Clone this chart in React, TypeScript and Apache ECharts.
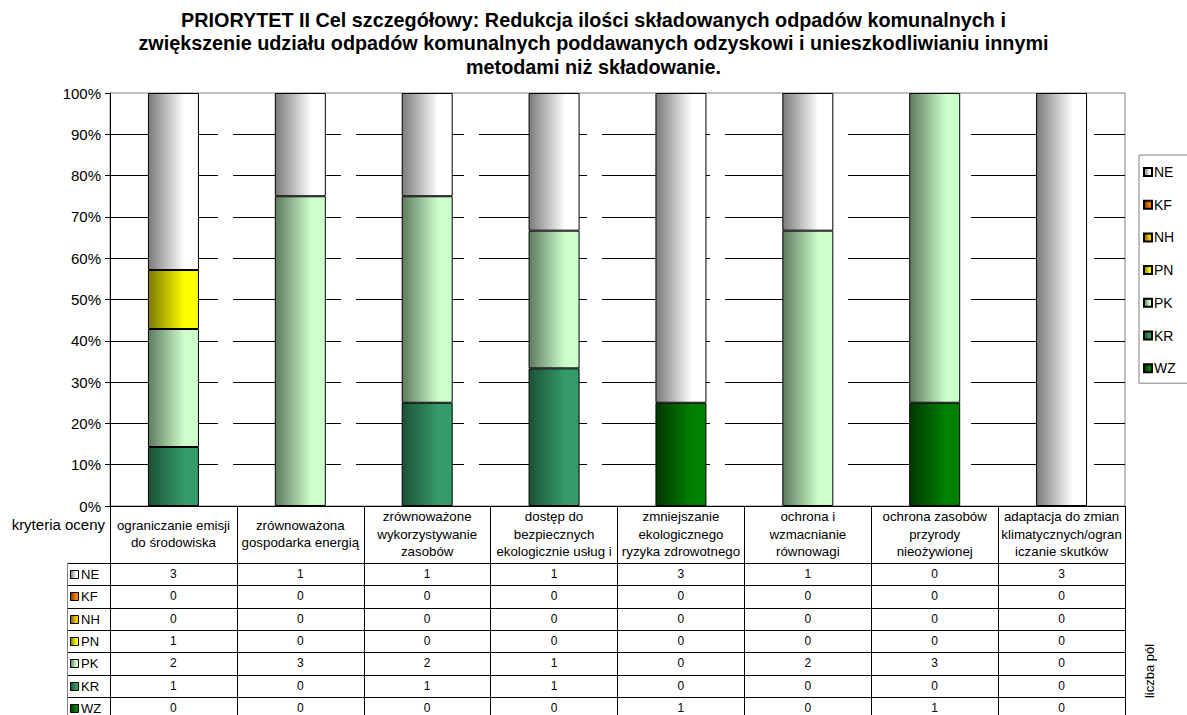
import React, { useEffect, useRef } from "react";
import * as echarts from "echarts";

// Criteria (column headers, pre-wrapped as in the printed table)
const categories = [
  "ograniczanie emisji\ndo środowiska",
  "zrównoważona\ngospodarka energią",
  "zrównoważone\nwykorzystywanie\nzasobów",
  "dostęp do\nbezpiecznych\nekologicznie usług i",
  "zmniejszanie\nekologicznego\nryzyka zdrowotnego",
  "ochrona i\nwzmacnianie\nrównowagi",
  "ochrona zasobów\nprzyrody\nnieożywionej",
  "adaptacja do zmian\nklimatycznych/ogran\niczanie skutków",
];

// Counts per assessment code (liczba pól)
const NE = [3, 1, 1, 1, 3, 1, 0, 3];
const KF = [0, 0, 0, 0, 0, 0, 0, 0];
const NH = [0, 0, 0, 0, 0, 0, 0, 0];
const PN = [1, 0, 0, 0, 0, 0, 0, 0];
const PK = [2, 3, 2, 1, 0, 2, 3, 0];
const KR = [1, 0, 1, 1, 0, 0, 0, 0];
const WZ = [0, 0, 0, 0, 1, 0, 1, 0];

const yTicks = [0, 10, 20, 30, 40, 50, 60, 70, 80, 90, 100];

const TITLE =
  "PRIORYTET II Cel szczegółowy: Redukcja ilości składowanych odpadów komunalnych i\nzwiększenie udziału odpadów komunalnych poddawanych odzyskowi i unieszkodliwianiu innymi\nmetodami niż składowanie.";

// table rows, top to bottom
const rows: { name: string; data: number[]; dark: string; light: string }[] = [
  { name: "NE", data: NE, dark: "#7a7a7a", light: "#ffffff" },
  { name: "KF", data: KF, dark: "#7a3d00", light: "#ff8000" },
  { name: "NH", data: NH, dark: "#7a5c00", light: "#ffcc00" },
  { name: "PN", data: PN, dark: "#7a7a00", light: "#ffff00" },
  { name: "PK", data: PK, dark: "#5e7a5e", light: "#ccffcc" },
  { name: "KR", data: KR, dark: "#1b5236", light: "#359b69" },
  { name: "WZ", data: WZ, dark: "#003800", light: "#008000" },
];

const FONT = "'Liberation Sans', Arial, sans-serif";

const GRID_LEFT = 110;
const GRID_TOP = 93;
const GRID_W = 1015;
const GRID_H = 413;
const HEADER_H = 57;
const ROW_H = 22.3;
const KEY_LEFT = 67;

const grad = (dark: string, light: string) =>
  new echarts.graphic.LinearGradient(0, 0, 1, 0, [
    { offset: 0, color: dark },
    { offset: 0.72, color: light },
    { offset: 1, color: light },
  ]);

export default function App() {
  const ref = useRef<HTMLDivElement>(null);

  useEffect(() => {
    if (!ref.current) return;
    const chart = echarts.init(ref.current, null, { renderer: "svg" });

    const totals = categories.map((_, i) =>
      rows.reduce((s, r) => s + r.data[i], 0)
    );

    // stacked bottom-up: WZ first, NE last
    const series = [...rows].reverse().map((r) => ({
      name: r.name,
      type: "bar",
      stack: "all",
      barWidth: 51,
      itemStyle: {
        color: grad(r.dark, r.light),
        borderColor: "#000",
        borderWidth: 1,
      },
      data: r.data.map((v, i) =>
        v === 0 || totals[i] === 0 ? "-" : (v / totals[i]) * 100
      ),
    }));

    const colW = GRID_W / categories.length;
    const tableTop = GRID_TOP + GRID_H + HEADER_H;
    const graphics: any[] = [];

    // horizontal table lines
    for (let r = 0; r <= rows.length; r++) {
      const y = Math.round(tableTop + r * ROW_H) + 0.5;
      graphics.push({
        type: "line",
        shape: { x1: KEY_LEFT, y1: y, x2: GRID_LEFT + GRID_W, y2: y },
        style: { stroke: "#000", lineWidth: 1 },
      });
    }
    // key column left border
    graphics.push({
      type: "line",
      shape: { x1: KEY_LEFT + 0.5, y1: tableTop, x2: KEY_LEFT + 0.5, y2: 720 },
      style: { stroke: "#808080", lineWidth: 1 },
    });

    rows.forEach((r, ri) => {
      const cy = tableTop + (ri + 0.5) * ROW_H;
      graphics.push({
        type: "rect",
        shape: { x: KEY_LEFT + 3.5, y: Math.round(cy - 4) + 0.5, width: 8, height: 8 },
        style: { fill: grad(r.dark, r.light), stroke: "#000", lineWidth: 1 },
      });
      graphics.push({
        type: "text",
        x: KEY_LEFT + 14,
        y: cy + 0.5,
        style: {
          text: r.name,
          fontFamily: FONT,
          fontSize: 13,
          fill: "#000",
          verticalAlign: "middle",
        },
      });
      r.data.forEach((v, ci) => {
        graphics.push({
          type: "text",
          x: GRID_LEFT + (ci + 0.5) * colW,
          y: cy,
          style: {
            text: String(v),
            fontFamily: FONT,
            fontSize: 12,
            fill: "#000",
            align: "center",
            verticalAlign: "middle",
          },
        });
      });
    });

    graphics.push({
      type: "text",
      x: 105,
      y: 524,
      style: {
        text: "kryteria oceny",
        fontFamily: FONT,
        fontSize: 15,
        fill: "#000",
        align: "right",
        verticalAlign: "middle",
      },
    });
    graphics.push({
      type: "text",
      x: 1149,
      y: 671,
      rotation: Math.PI / 2,
      style: {
        text: "liczba pól",
        fontFamily: FONT,
        fontSize: 13,
        fill: "#000",
        align: "center",
        verticalAlign: "middle",
      },
    });

    chart.setOption({
      animation: false,
      backgroundColor: "#fff",
      title: {
        text: TITLE,
        left: "center",
        top: 8,
        padding: 0,
        textStyle: {
          fontFamily: FONT,
          fontSize: 19.8,
          fontWeight: "bold",
          color: "#000",
          lineHeight: 23.5,
        },
      },
      legend: {
        orient: "vertical",
        left: 1139,
        top: 155,
        data: rows.map((r) => r.name),
        icon: "rect",
        itemWidth: 8,
        itemHeight: 8,
        itemGap: 18.7,
        padding: [10, 40, 8, 4],
        borderColor: "#808080",
        borderWidth: 1,
        backgroundColor: "#fff",
        selectedMode: false,
        textStyle: {
          fontFamily: FONT,
          fontSize: 14,
          color: "#000",
          lineHeight: 14,
          padding: [0, 0, 0, -3],
        },
      },
      grid: {
        left: GRID_LEFT,
        top: GRID_TOP,
        width: GRID_W,
        height: GRID_H,
        show: true,
        borderColor: "#808080",
        borderWidth: 1,
        backgroundColor: "transparent",
      },
      xAxis: {
        type: "category",
        data: categories,
        axisLine: { show: true, lineStyle: { color: "#000", width: 1 } },
        axisTick: {
          show: true,
          inside: false,
          length: 215,
          lineStyle: { color: "#000", width: 1 },
        },
        axisLabel: {
          interval: 0,
          margin: 28,
          verticalAlign: "middle",
          fontFamily: FONT,
          fontSize: 13.3,
          lineHeight: 17.5,
          color: "#000",
        },
      },
      yAxis: {
        type: "value",
        min: yTicks[0],
        max: yTicks[yTicks.length - 1],
        interval: yTicks[1] - yTicks[0],
        axisLine: { show: true, lineStyle: { color: "#000", width: 1 } },
        axisTick: { show: true, length: 5, lineStyle: { color: "#000" } },
        axisLabel: {
          formatter: "{value}%",
          fontFamily: FONT,
          fontSize: 15,
          color: "#000",
          margin: 9,
        },
        splitLine: {
          show: true,
          showMinLine: false,
          showMaxLine: false,
          lineStyle: { color: "#000", width: 1, type: [108, 15] },
        },
      },
      graphic: graphics,
      series,
    });

    return () => chart.dispose();
  }, []);

  return (
    <div
      ref={ref}
      style={{ position: "fixed", left: 0, top: 0, width: 1187, height: 715 }}
    />
  );
}
